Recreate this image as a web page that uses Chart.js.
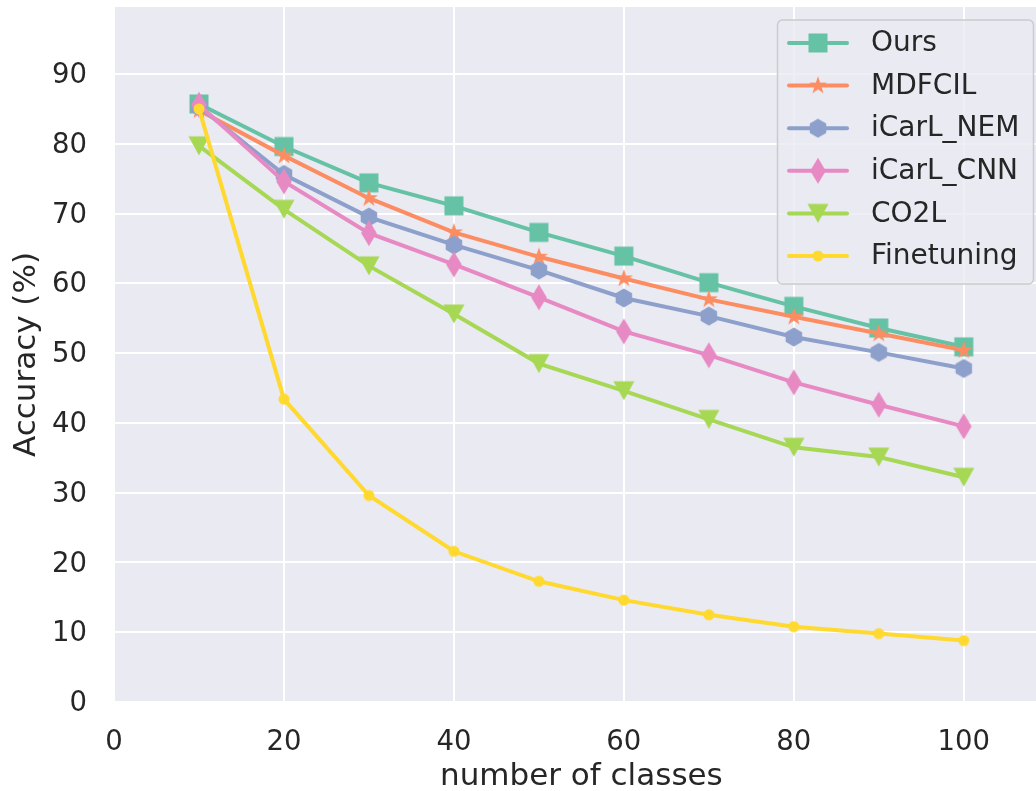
<!DOCTYPE html>
<html>
<head>
<meta charset="utf-8">
<script src="https://cdn.jsdelivr.net/npm/chart.js@4.4.0/dist/chart.umd.min.js"></script>
<style>
html,body{margin:0;padding:0;background:#ffffff;}
#c{display:block;}
</style>
</head>
<body>
<canvas id="c" width="1036" height="791"></canvas>
<script>
// ---- data ----
const classes = [10, 20, 30, 40, 50, 60, 70, 80, 90, 100];
const seriesNames = ["Ours", "MDFCIL", "iCarL_NEM", "iCarL_CNN", "CO2L", "Finetuning"];
const ours      = [85.7, 79.6, 74.4, 71.1, 67.3, 63.9, 60.1, 56.7, 53.6, 50.9];
const mdfcil    = [84.8, 78.3, 72.2, 67.3, 63.8, 60.7, 57.7, 55.2, 52.8, 50.4];
const icarlNem  = [85.3, 75.6, 69.5, 65.5, 61.9, 57.9, 55.3, 52.3, 50.1, 47.8];
const icarlCnn  = [85.6, 74.6, 67.2, 62.7, 58.0, 53.1, 49.7, 45.8, 42.6, 39.5];
const co2l      = [79.7, 70.6, 62.5, 55.6, 48.5, 44.6, 40.5, 36.5, 35.1, 32.2];
const finetune  = [85.0, 43.4, 29.6, 21.6, 17.3, 14.6, 12.5, 10.8, 9.8, 8.8];
const xTicks = [0, 20, 40, 60, 80, 100];
const yTicks = [0, 10, 20, 30, 40, 50, 60, 70, 80, 90];
const xTitle = "number of classes";
const yTitle = "Accuracy (%)";

const colors = ["#66c2a5", "#fc8d62", "#8da0cb", "#e78ac3", "#a6d854", "#ffd92f"];
const shapes = ["square", "star", "hexagon", "thindiamond", "triangledown", "circle"];
const allValues = [ours, mdfcil, icarlNem, icarlCnn, co2l, finetune];
const textColor = "#262626";
const FONT = "'DejaVu Sans', sans-serif";
const FS = 27.5;     // tick labels
const FS_LEG = 28;   // legend
const FS_AX = 31;    // axis titles

// ---- marker images ----
function makeMarker(shape, color) {
  const S = 32;
  const c = document.createElement('canvas');
  c.width = S; c.height = S;
  const g = c.getContext('2d');
  g.fillStyle = color;
  g.translate(S / 2, S / 2);
  g.beginPath();
  if (shape === 'square') {
    g.rect(-9.5, -9.5, 19, 19);
  } else if (shape === 'star') {
    const R = 9.5, r = R * 0.381966;
    for (let i = 0; i < 10; i++) {
      const a = -Math.PI / 2 + i * Math.PI / 5;
      const rad = (i % 2 === 0) ? R : r;
      const px = rad * Math.cos(a), py = rad * Math.sin(a);
      if (i === 0) g.moveTo(px, py); else g.lineTo(px, py);
    }
    g.closePath();
  } else if (shape === 'hexagon') {
    const R = 9.5;
    for (let i = 0; i < 6; i++) {
      const a = -Math.PI / 2 + i * Math.PI / 3;
      const px = R * Math.cos(a), py = R * Math.sin(a);
      if (i === 0) g.moveTo(px, py); else g.lineTo(px, py);
    }
    g.closePath();
  } else if (shape === 'thindiamond') {
    g.moveTo(0, -13); g.lineTo(7.8, 0); g.lineTo(0, 13); g.lineTo(-7.8, 0); g.closePath();
  } else if (shape === 'triangledown') {
    g.moveTo(-10.5, -9.5); g.lineTo(10.5, -9.5); g.lineTo(0, 9.5); g.closePath();
  } else if (shape === 'circle') {
    g.arc(0, 0, 5.5, 0, Math.PI * 2);
  }
  g.fill();
  return c;
}
const markers = shapes.map((s, i) => makeMarker(s, colors[i]));

const datasets = seriesNames.map((name, i) => ({
  label: name,
  data: classes.map((x, j) => ({ x: x, y: allValues[i][j] })),
  borderColor: colors[i],
  backgroundColor: colors[i],
  borderWidth: 4,
  pointStyle: markers[i],
  pointRadius: 10,
  pointHoverRadius: 10,
  tension: 0,
  fill: false,
  clip: false,
  order: seriesNames.length - i
}));

const bgPlugin = {
  id: 'bg',
  beforeDraw(chart) {
    const { ctx, chartArea: a } = chart;
    ctx.save();
    ctx.fillStyle = '#eaeaf2';
    ctx.fillRect(a.left, a.top, a.right - a.left, a.bottom - a.top);
    ctx.restore();
  }
};

function roundRect(ctx, x, y, w, h, r) {
  ctx.beginPath();
  ctx.moveTo(x + r, y);
  ctx.lineTo(x + w - r, y);
  ctx.arcTo(x + w, y, x + w, y + r, r);
  ctx.lineTo(x + w, y + h - r);
  ctx.arcTo(x + w, y + h, x + w - r, y + h, r);
  ctx.lineTo(x + r, y + h);
  ctx.arcTo(x, y + h, x, y + h - r, r);
  ctx.lineTo(x, y + r);
  ctx.arcTo(x, y, x + r, y, r);
  ctx.closePath();
}

const titlesPlugin = {
  id: 'axisTitles',
  afterDraw(chart) {
    const ctx = chart.ctx;
    const a = chart.chartArea;
    ctx.save();
    ctx.fillStyle = textColor;
    ctx.font = FS_AX + 'px ' + FONT;
    ctx.textAlign = 'center';
    ctx.textBaseline = 'alphabetic';
    // x title (axes extend slightly beyond the cropped right edge)
    const xs = chart.scales.x;
    const xc = (xs.getPixelForValue(0) + xs.getPixelForValue(110)) / 2;
    ctx.fillText(xTitle, xc, 785);
    // y title
    ctx.translate(35, (a.top + a.bottom) / 2);
    ctx.rotate(-Math.PI / 2);
    ctx.fillText(yTitle, 0, 0);
    ctx.restore();
  }
};

const legendPlugin = {
  id: 'customLegend',
  afterDraw(chart) {
    const ctx = chart.ctx;
    ctx.save();
    const bx = 777.5, by = 20, bw = 256, bh = 264;
    roundRect(ctx, bx, by, bw, bh, 5);
    ctx.fillStyle = 'rgba(234,234,242,0.8)';
    ctx.fill();
    ctx.lineWidth = 1.5;
    ctx.strokeStyle = '#cccccc';
    ctx.stroke();
    ctx.font = FS_LEG + 'px ' + FONT;
    ctx.textBaseline = 'middle';
    ctx.textAlign = 'left';
    seriesNames.forEach((name, i) => {
      const cy = 43 + i * 42.6;
      ctx.strokeStyle = colors[i];
      ctx.lineWidth = 4;
      ctx.lineCap = 'round';
      ctx.beginPath();
      ctx.moveTo(789, cy); ctx.lineTo(847, cy);
      ctx.stroke();
      const m = markers[i];
      ctx.drawImage(m, 818 - m.width / 2, cy - m.height / 2);
      ctx.fillStyle = textColor;
      ctx.fillText(name, 871, cy + 1);
    });
    ctx.restore();
  }
};

new Chart(document.getElementById('c'), {
  type: 'line',
  data: { datasets: datasets },
  options: {
    responsive: false,
    animation: false,
    devicePixelRatio: 1,
    layout: { autoPadding: false, padding: { left: 0, right: 0, top: 7, bottom: 0 } },
    plugins: { legend: { display: false }, tooltip: { enabled: false } },
    scales: {
      x: {
        type: 'linear',
        min: 0,
        max: 108.5,
        afterFit(scale) { scale.height = 89; scale.paddingLeft = 0; scale.paddingRight = 0; },
        afterBuildTicks(scale) { scale.ticks = xTicks.map(v => ({ value: v })); },
        ticks: {
          stepSize: 20,
          includeBounds: false,
          color: textColor,
          font: { family: FONT, size: FS },
          padding: 24,
          maxRotation: 0
        },
        grid: { color: '#ffffff', lineWidth: 2, drawTicks: false },
        border: { display: false },
        title: { display: false }
      },
      y: {
        type: 'linear',
        min: 0,
        max: 99.6,
        afterFit(scale) { scale.width = 114; scale.paddingTop = 0; scale.paddingBottom = 0; },
        afterBuildTicks(scale) { scale.ticks = yTicks.map(v => ({ value: v })); },
        ticks: {
          stepSize: 10,
          includeBounds: false,
          color: textColor,
          font: { family: FONT, size: FS },
          padding: 27,
          labelOffset: 2
        },
        grid: { color: '#ffffff', lineWidth: 2, drawTicks: false },
        border: { display: false },
        title: { display: false }
      }
    }
  },
  plugins: [bgPlugin, titlesPlugin, legendPlugin]
});
</script>
</body>
</html>
